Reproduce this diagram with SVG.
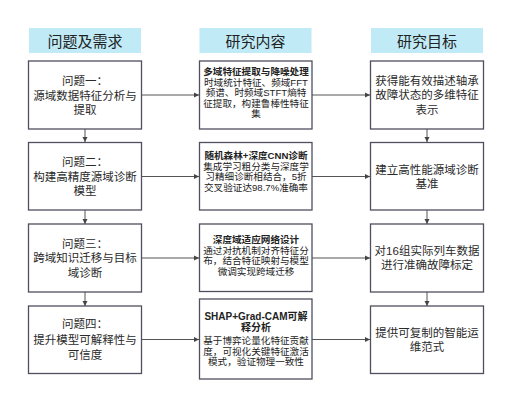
<svg xmlns="http://www.w3.org/2000/svg" width="510" height="407" viewBox="0 0 510 407">
<defs>
<marker id="ah" markerWidth="6" markerHeight="6" refX="5" refY="3" orient="auto" markerUnits="userSpaceOnUse">
<path d="M0,0.5 L5,3 L0,5.5 Z" fill="#444"/>
</marker>
<style>
.hdr{fill:#bfeaf6;stroke:none}
.box{fill:#ffffff;stroke:#4f4f5e;stroke-width:1.3}
.ht{font-family:"Liberation Sans","Noto Sans CJK SC",sans-serif;font-size:15px;fill:#222;text-anchor:middle;dominant-baseline:central}
.t{font-family:"Liberation Sans","Noto Sans CJK SC",sans-serif;font-size:11.5px;fill:#2a2a2a;text-anchor:middle;dominant-baseline:central}
.m{font-family:"Liberation Sans","Noto Sans CJK SC",sans-serif;font-size:9.6px;fill:#222;text-anchor:middle;dominant-baseline:central}
.b{font-weight:bold}
.c{stroke:#555;stroke-width:1;fill:none;marker-end:url(#ah)}
</style>
</defs>
<rect width="510" height="407" fill="#ffffff"/>

<g id="header-1"><rect class="hdr" x="29" y="28" width="112" height="25"/><text class="ht" x="85" y="41">问题及需求</text></g>
<g id="header-2"><rect class="hdr" x="199.5" y="28" width="112" height="25"/><text class="ht" x="255.5" y="41">研究内容</text></g>
<g id="header-3"><rect class="hdr" x="371" y="28" width="112" height="25"/><text class="ht" x="427" y="41">研究目标</text></g>

<g id="connectors">
<line class="c" x1="85" y1="129" x2="85" y2="142"/>
<line class="c" x1="85" y1="210" x2="85" y2="224"/>
<line class="c" x1="85" y1="292" x2="85" y2="306"/>
<line class="c" x1="427" y1="129" x2="427" y2="142"/>
<line class="c" x1="427" y1="210" x2="427" y2="224"/>
<line class="c" x1="427" y1="292" x2="427" y2="306"/>
<line class="c" x1="142" y1="95" x2="199" y2="95"/>
<line class="c" x1="142" y1="176.5" x2="199" y2="176.5"/>
<line class="c" x1="142" y1="258" x2="199" y2="258"/>
<line class="c" x1="142" y1="339.5" x2="199" y2="339.5"/>
<line class="c" x1="312" y1="95" x2="370" y2="95"/>
<line class="c" x1="312" y1="176.5" x2="370" y2="176.5"/>
<line class="c" x1="312" y1="258" x2="370" y2="258"/>
<line class="c" x1="312" y1="339.5" x2="370" y2="339.5"/>
</g>

<g id="problem-1"><rect class="box" x="28.5" y="61" width="113" height="68"/>
<text class="t" x="85" y="80.5">问题一：</text><text class="t" x="85" y="95.5">源域数据特征分析与</text><text class="t" x="85" y="110">提取</text></g>
<g id="problem-2"><rect class="box" x="28.5" y="142.5" width="113" height="67.5"/>
<text class="t" x="85" y="162">问题二：</text><text class="t" x="85" y="176.5">构建高精度源域诊断</text><text class="t" x="85" y="191">模型</text></g>
<g id="problem-3"><rect class="box" x="28.5" y="224" width="113" height="68"/>
<text class="t" x="85" y="243.5">问题三：</text><text class="t" x="85" y="258">跨域知识迁移与目标</text><text class="t" x="85" y="272.5">域诊断</text></g>
<g id="problem-4"><rect class="box" x="28.5" y="306" width="113" height="67.5"/>
<text class="t" x="85" y="324">问题四：</text><text class="t" x="85" y="339.5">提升模型可解释性与</text><text class="t" x="85" y="355">可信度</text></g>

<g id="content-1"><rect class="box" x="199.5" y="61" width="112.5" height="68"/>
<text class="m b" x="256" y="71.5">多域特征提取与降噪处理</text>
<text class="m" x="256" y="82">时域统计特征、频域FFT</text>
<text class="m" x="256" y="92.5">频谱、时频域STFT熵特</text>
<text class="m" x="256" y="103">征提取，构建鲁棒性特征</text>
<text class="m" x="256" y="113.5">集</text></g>
<g id="content-2"><rect class="box" x="199.5" y="142.5" width="112.5" height="67.5"/>
<text class="m b" x="256" y="155.5">随机森林+深度CNN诊断</text>
<text class="m" x="256" y="166">集成学习粗分类与深度学</text>
<text class="m" x="256" y="176.5">习精细诊断相结合，5折</text>
<text class="m" x="256" y="187">交叉验证达98.7%准确率</text></g>
<g id="content-3"><rect class="box" x="199.5" y="224" width="112.5" height="67.5"/>
<text class="m b" x="256" y="239.5">深度域适应网络设计</text>
<text class="m" x="256" y="250">通过对抗机制对齐特征分</text>
<text class="m" x="256" y="260.5">布，结合特征映射与模型</text>
<text class="m" x="256" y="271">微调实现跨域迁移</text></g>
<g id="content-4"><rect class="box" x="199.5" y="299" width="112.5" height="80"/>
<text class="m b" x="256" y="316" style="font-size:10px">SHAP+Grad-CAM可解</text>
<text class="m b" x="256" y="327" style="font-size:10px">释分析</text>
<text class="m" x="256" y="340.5">基于博弈论量化特征贡献</text>
<text class="m" x="256" y="351">度，可视化关键特征激活</text>
<text class="m" x="256" y="361.5">模式，验证物理一致性</text></g>

<g id="goal-1"><rect class="box" x="370.5" y="61" width="113" height="68"/>
<text class="t" x="427" y="80.5">获得能有效描述轴承</text><text class="t" x="427" y="95">故障状态的多维特征</text><text class="t" x="427" y="109.5">表示</text></g>
<g id="goal-2"><rect class="box" x="370.5" y="142.5" width="113" height="67.5"/>
<text class="t" x="427" y="169.5">建立高性能源域诊断</text><text class="t" x="427" y="184">基准</text></g>
<g id="goal-3"><rect class="box" x="370.5" y="224" width="113" height="68"/>
<text class="t" x="427" y="250.5">对16组实际列车数据</text><text class="t" x="427" y="265">进行准确故障标定</text></g>
<g id="goal-4"><rect class="box" x="370.5" y="306" width="113" height="67.5"/>
<text class="t" x="427" y="332.5">提供可复制的智能运</text><text class="t" x="427" y="347">维范式</text></g>
</svg>
